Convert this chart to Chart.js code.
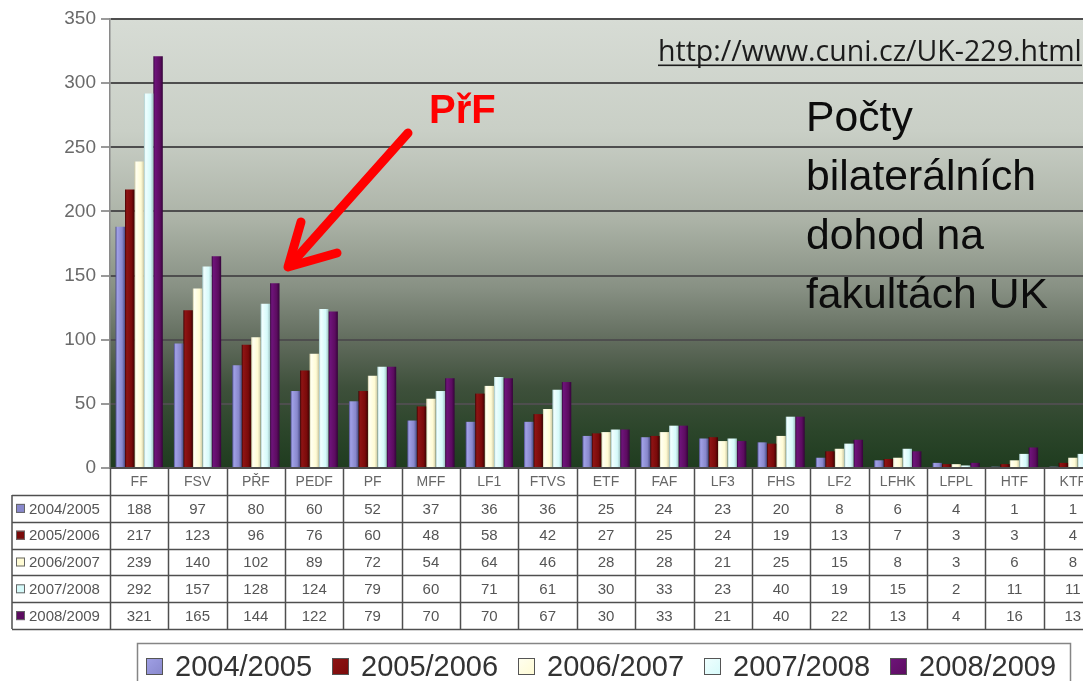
<!DOCTYPE html>
<html>
<head>
<meta charset="utf-8">
<script src="https://cdn.jsdelivr.net/npm/chart.js@4.4.1/dist/chart.umd.min.js"></script>
<style>
  html, body { margin: 0; padding: 0; background: #ffffff; overflow: hidden; }
  #wrap { width: 1083px; height: 681px; overflow: hidden; position: relative; }
  canvas { display: block; }
</style>
</head>
<body>
<div id="wrap"><canvas id="c" width="1102" height="681"></canvas></div>
<script>
// ---- data ----
const categories = ['FF','FSV','PŘF','PEDF','PF','MFF','LF1','FTVS','ETF','FAF','LF3','FHS','LF2','LFHK','LFPL','HTF','KTF'];
const seriesLabels = ['2004/2005','2005/2006','2006/2007','2007/2008','2008/2009'];
const v2004 = [188, 97, 80, 60, 52, 37, 36, 36, 25, 24, 23, 20,  8,  6, 4,  1,  1];
const v2005 = [217,123, 96, 76, 60, 48, 58, 42, 27, 25, 24, 19, 13,  7, 3,  3,  4];
const v2006 = [239,140,102, 89, 72, 54, 64, 46, 28, 28, 21, 25, 15,  8, 3,  6,  8];
const v2007 = [292,157,128,124, 79, 60, 71, 61, 30, 33, 23, 40, 19, 15, 2, 11, 11];
const v2008 = [321,165,144,122, 79, 70, 70, 67, 30, 33, 21, 40, 22, 13, 4, 16, 13];
const yMin = 0, yMax = 350, yStep = 50;
const urlText = 'http://www.cuni.cz/UK-229.html';
const titleLines = ['Počty', 'bilaterálních', 'dohod na', 'fakultách UK'];
const annotText = 'PřF';

const seriesValues = [v2004, v2005, v2006, v2007, v2008];
const seriesColors = ['#8888cc', '#7a0a0a', '#fffbd4', '#d6fafa', '#5c0c60'];
const seriesLight  = ['#a0a0e6', '#8e1414', '#fffff0', '#f0ffff', '#6e147a'];
const seriesDark   = ['#4c4c88', '#400202', '#cfcba6', '#a0c4c4', '#34043a'];

const FONT = '"Liberation Sans", Arial, sans-serif';

const bgPlugin = {
  id: 'bg',
  beforeDraw(chart) {
    const { ctx, chartArea: a } = chart;
    ctx.save();
    ctx.fillStyle = '#ffffff';
    ctx.fillRect(0, 0, chart.width, chart.height);
    const g = ctx.createLinearGradient(0, a.top, 0, a.bottom);
    g.addColorStop(0.00, '#d7dcd5');
    g.addColorStop(0.25, '#c9cfc6');
    g.addColorStop(0.45, '#abb2a6');
    g.addColorStop(0.60, '#879083');
    g.addColorStop(0.72, '#606b5c');
    g.addColorStop(0.82, '#3e503b');
    g.addColorStop(0.92, '#2b452a');
    g.addColorStop(1.00, '#1f3c1f');
    ctx.fillStyle = g;
    ctx.fillRect(a.left, a.top, a.right - a.left, a.bottom - a.top);
    ctx.restore();
  }
};

// soft cylinder-like shading of each bar, computed from the bar's own geometry
const shadePlugin = {
  id: 'shade',
  beforeDatasetsDraw(chart) {
    const ctx = chart.ctx;
    chart.data.datasets.forEach((ds, i) => {
      chart.getDatasetMeta(i).data.forEach(el => {
        const half = el.width / 2;
        const g = ctx.createLinearGradient(el.x - half, 0, el.x + half, 0);
        g.addColorStop(0.0, seriesDark[i]);
        g.addColorStop(0.18, seriesLight[i]);
        g.addColorStop(0.7, seriesColors[i]);
        g.addColorStop(1.0, seriesDark[i]);
        el.options.backgroundColor = g;
      });
    });
  }
};

const tablePlugin = {
  id: 'table',
  afterDraw(chart) {
    const { ctx, chartArea: a } = chart;
    const xs = chart.scales.x;
    const n = categories.length;
    const colW = (a.right - a.left) / n;
    const headTop = a.bottom, headBot = 495, tableBot = 629;
    const rowH = (tableBot - headBot) / seriesLabels.length;
    const leftX = 12;
    ctx.save();
    ctx.strokeStyle = '#4f4f4f';
    ctx.lineWidth = 1.5;
    for (let i = 0; i <= n; i++) {
      const x = Math.round(xs.getPixelForValue(0) - colW / 2 + i * colW) + 0.5;
      ctx.beginPath(); ctx.moveTo(x, headTop); ctx.lineTo(x, tableBot); ctx.stroke();
    }
    ctx.beginPath(); ctx.moveTo(leftX, headBot); ctx.lineTo(leftX, tableBot); ctx.stroke();
    for (let r = 0; r <= seriesLabels.length; r++) {
      const y = Math.round(headBot + r * rowH) + 0.5;
      ctx.beginPath(); ctx.moveTo(leftX, y); ctx.lineTo(a.right, y); ctx.stroke();
    }
    ctx.fillStyle = '#666666';
    ctx.font = '14px ' + FONT;
    ctx.textAlign = 'center'; ctx.textBaseline = 'middle';
    categories.forEach((c, i) => {
      ctx.fillText(c, xs.getPixelForValue(i), (headTop + headBot) / 2 + 1);
    });
    ctx.fillStyle = '#555555';
    ctx.font = '15px ' + FONT;
    seriesValues.forEach((vals, r) => {
      const cy = headBot + (r + 0.5) * rowH + 1;
      vals.forEach((v, i) => ctx.fillText(String(v), xs.getPixelForValue(i), cy));
    });
    ctx.textAlign = 'left';
    seriesLabels.forEach((lab, r) => {
      const cy = headBot + (r + 0.5) * rowH;
      ctx.fillStyle = seriesColors[r];
      ctx.fillRect(16, cy - 4.5, 9, 9);
      ctx.strokeStyle = '#666'; ctx.lineWidth = 1;
      ctx.strokeRect(16.5, cy - 4, 8, 8);
      ctx.fillStyle = '#555555';
      ctx.fillText(lab, 29, cy + 1);
    });
    ctx.restore();
  }
};

const legendPlugin = {
  id: 'customLegend',
  afterDraw(chart) {
    const { ctx } = chart;
    ctx.save();
    ctx.strokeStyle = '#858585';
    ctx.lineWidth = 1.5;
    ctx.strokeRect(137.5, 643.5, 933, 40);
    ctx.font = '29px ' + FONT;
    ctx.textAlign = 'left'; ctx.textBaseline = 'alphabetic';
    chart.data.datasets.forEach((ds, i) => {
      const mx = 146 + i * 186;
      const g = ctx.createLinearGradient(mx, 658, mx + 17, 675);
      g.addColorStop(0, seriesLight[i]);
      g.addColorStop(1, seriesColors[i]);
      ctx.fillStyle = g;
      ctx.fillRect(mx, 658, 17, 17);
      ctx.strokeStyle = '#555'; ctx.lineWidth = 1;
      ctx.strokeRect(mx + 0.5, 658.5, 16, 16);
      ctx.fillStyle = '#333333';
      ctx.fillText(ds.label, mx + 29, 676);
    });
    ctx.restore();
  }
};

function fitFont(ctx, text, family, weight, targetW, guess) {
  ctx.font = weight + ' ' + guess + 'px ' + family;
  const w = ctx.measureText(text).width;
  return guess * targetW / w;
}

const annotPlugin = {
  id: 'annot',
  afterDraw(chart) {
    const { ctx } = chart;
    ctx.save();
    const urlFam = '"Open Sans", "DejaVu Sans", sans-serif';
    const us = fitFont(ctx, urlText, urlFam, '500', 424, 24);
    ctx.font = '500 ' + us + 'px ' + urlFam;
    ctx.fillStyle = '#1c1c1c';
    ctx.textAlign = 'left'; ctx.textBaseline = 'alphabetic';
    ctx.fillText(urlText, 658, 61);
    ctx.fillRect(658, 64.5, 424, 1.6);
    const ts = fitFont(ctx, titleLines[3], FONT, 'normal', 242, 44);
    ctx.font = ts + 'px ' + FONT;
    ctx.fillStyle = '#0c0c0c';
    const bases = [131, 190, 249, 308];
    titleLines.forEach((t, i) => ctx.fillText(t, 806, bases[i]));
    ctx.font = 'bold 40px ' + FONT;
    ctx.fillStyle = '#ff0000';
    ctx.fillText(annotText, 429, 123);
    ctx.strokeStyle = '#ff0000';
    ctx.lineWidth = 9;
    ctx.lineCap = 'round'; ctx.lineJoin = 'round';
    ctx.beginPath(); ctx.moveTo(408, 133); ctx.lineTo(292, 263); ctx.stroke();
    ctx.beginPath();
    ctx.moveTo(301, 222); ctx.lineTo(288, 267); ctx.lineTo(337, 253);
    ctx.stroke();
    ctx.restore();
  }
};

new Chart(document.getElementById('c'), {
  type: 'bar',
  data: {
    labels: categories,
    datasets: seriesLabels.map((lab, i) => ({
      label: lab,
      data: seriesValues[i],
      // scriptable so that every bar gets its own options object (needed for per-bar shading)
      backgroundColor: () => seriesColors[i],
      borderWidth: 0,
      barPercentage: 1.0,
      categoryPercentage: 0.81
    }))
  },
  options: {
    responsive: false,
    animation: false,
    devicePixelRatio: 1,
    layout: { padding: { top: 19, left: 0, right: 0, bottom: 0 } },
    plugins: { legend: { display: false }, tooltip: { enabled: false } },
    scales: {
      x: {
        display: true,
        ticks: { display: false },
        grid: { display: false },
        border: { display: false },
        afterFit: s => { s.height = 213; }
      },
      y: {
        min: yMin, max: yMax,
        ticks: { stepSize: yStep, color: '#6a6a6a', font: { family: FONT, size: 19 }, padding: 5 },
        grid: { color: '#4e4e4e', lineWidth: 2, tickLength: 9, tickColor: '#9a9a9a' },
        border: { display: true, color: '#8a8a8a', width: 1.5 },
        afterFit: s => { s.width = 110; }
      }
    }
  },
  plugins: [bgPlugin, shadePlugin, tablePlugin, legendPlugin, annotPlugin]
});
</script>
</body>
</html>
